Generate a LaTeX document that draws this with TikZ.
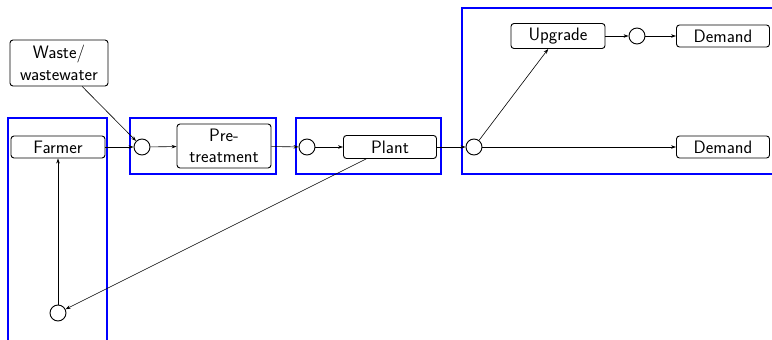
\documentclass[tikz,border=0pt]{standalone}
\usetikzlibrary{arrows.meta}
\begin{document}
\begin{tikzpicture}[x=1pt,y=-1pt,
  font=\sffamily\fontsize{18}{21.5}\selectfont,
  proc/.style={draw,rounded corners=3pt,line width=0.9pt,minimum width=94pt,minimum height=22pt,inner sep=1pt,align=center},
  hub/.style={draw,circle,line width=0.9pt,minimum size=16pt,inner sep=0pt},
  group/.style={draw=blue,line width=2pt},
  flow/.style={line width=0.6pt,-{Stealth[length=5pt,width=3.5pt]}}]
\useasboundingbox (0,0) rectangle (772,340);

% group frames
\draw[group] (8,118) rectangle (107,341);
\draw[group] (130,118) rectangle (276,174);
\draw[group] (296,118) rectangle (441,174);
\draw[group] (462,8) rectangle (773,174);

% process boxes
\node[proc,minimum width=98pt,minimum height=46pt] (waste) at (59,63) {Waste/\\wastewater};
\node[proc] (farmer) at (58,147) {Farmer};
\node[proc,minimum height=44pt] (pre) at (224,146) {Pre-\\treatment};
\node[proc,minimum width=93pt,minimum height=23pt] (plant) at (390,147) {Plant};
\node[proc,minimum height=25pt] (upgrade) at (558,36) {Upgrade};
\node[proc,minimum width=93pt] (demA) at (723,36) {Demand};
\node[proc,minimum width=93pt] (demB) at (723,147) {Demand};

% junctions
\node[hub] (j1) at (142,147) {};
\node[hub] (j2) at (307,147) {};
\node[hub] (j3) at (474,147) {};
\node[hub] (j4) at (637,36) {};
\node[hub] (j5) at (58,313) {};

% flows
\draw[flow] (waste) -- (j1);
\draw[flow] (farmer) -- (j1);
\draw[flow] (j1) -- (pre);
\draw[flow] (pre) -- (j2);
\draw[flow] (j2) -- (plant);
\draw[flow] (plant) -- (j3);
\draw[flow] (j3) -- (upgrade);
\draw[flow] (upgrade) -- (j4);
\draw[flow] (j4) -- (demA);
\draw[flow] (j3) -- (demB);
\draw[flow] (plant) -- (j5);
\draw[flow] (j5) -- (farmer);
\end{tikzpicture}
\end{document}
